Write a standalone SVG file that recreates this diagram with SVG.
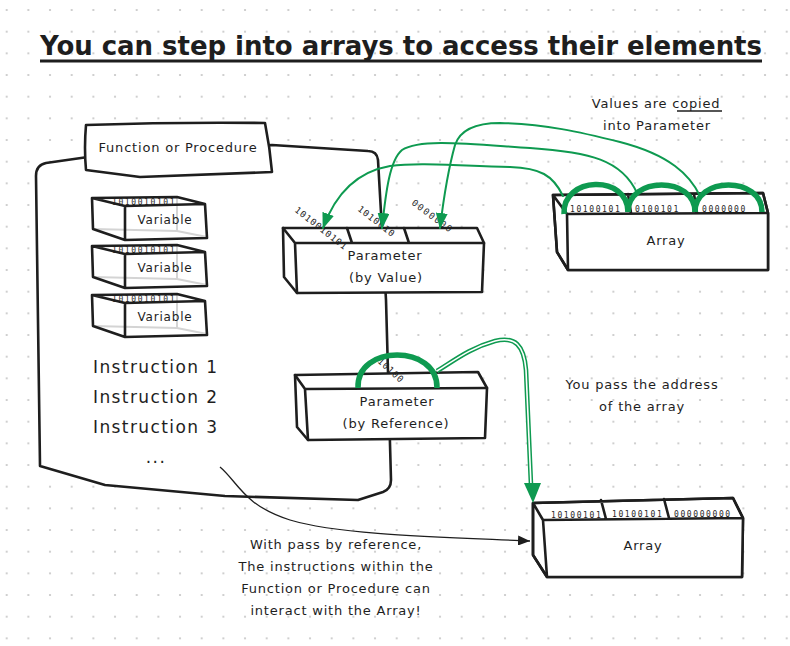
<svg xmlns="http://www.w3.org/2000/svg" width="790" height="646" viewBox="0 0 790 646">
<style>
.ln{fill:none;stroke:#1e1e1e;stroke-width:2.6;stroke-linejoin:round;stroke-linecap:round}
.bx{fill:#fff;stroke:#1e1e1e;stroke-width:2.6;stroke-linejoin:round}
.hid{fill:none;stroke:#d4d4d4;stroke-width:2}
.t{font-family:"DejaVu Sans",sans-serif;font-size:13px;letter-spacing:0.8px;fill:#1e1e1e}
.c{text-anchor:middle}
.ins{font-family:"DejaVu Sans",sans-serif;font-size:17px;letter-spacing:1.4px;fill:#1e1e1e}
.bits{font-family:"DejaVu Sans Mono",monospace;font-size:8px;letter-spacing:1.6px;fill:#1e1e1e}
.rb{font-family:"DejaVu Sans Mono",monospace;font-size:9px;letter-spacing:1px;fill:#1e1e1e}
.g{fill:none;stroke:#0e9a50;stroke-width:2;stroke-linecap:round}
.gt{fill:none;stroke:#0e9a50;stroke-width:5.5}
</style>
<defs>
<pattern id="dots" x="-4.13" y="-0.83" width="21.667" height="21.667" patternUnits="userSpaceOnUse">
<circle cx="10.83" cy="10.83" r="1.1" fill="#c4c4c4"/>
</pattern>
<marker id="ga" viewBox="0 0 16 12" refX="15" refY="6" markerWidth="16" markerHeight="12" markerUnits="userSpaceOnUse" orient="auto">
<path d="M0,0 L16,6 L0,12 Z" fill="#0e9a50"/>
</marker>
<marker id="ba" viewBox="0 0 12 10" refX="12" refY="5" markerWidth="12" markerHeight="10" markerUnits="userSpaceOnUse" orient="auto">
<path d="M0,0 L12,5 L0,10 Z" fill="#1e1e1e"/>
</marker>
</defs>
<rect width="790" height="646" fill="#fff"/>
<rect width="790" height="646" fill="url(#dots)"/>

<g id="title">
<text x="40" y="55" textLength="722" lengthAdjust="spacing" style="font-family:'DejaVu Sans',sans-serif;font-size:26px;font-weight:bold;fill:#1e1e1e">You can step into arrays to access their elements</text>
<path d="M40,61 L762,61" stroke="#1e1e1e" stroke-width="3"/>
</g>

<g id="function">
<path class="bx" d="M88,157 L46,163 Q36,165 36,176 L40,466 L105,485 L225,496 L358,500 L383,492 Q391,489 391,480 L386,300 L378,160 Q377,151 368,151 L272,145 Z"/>
<path class="bx" d="M86,125 Q175,122 265,123 Q270,148 272,172 L140,177 L86,170 Q84,148 86,125 Z"/>
<text class="t c" x="178" y="152">Function or Procedure</text>
<text class="ins" x="93" y="373">Instruction 1</text>
<text class="ins" x="93" y="403">Instruction 2</text>
<text class="ins" x="93" y="433">Instruction 3</text>
<text class="ins c" x="156" y="463">...</text>
</g>

<g id="var1">
<path d="M92,198 L177,197 L205,204 L207,238 L125,240 L93,229 Z" fill="#fff"/>
<text class="bits" x="112" y="205">1010010101</text>
<path d="M125,206 L205,204 L207,238 L125,240 Z" fill="#fff"/>
<path class="hid" d="M93,229 L177,231 L207,237 M177,198 L177,231"/>
<path class="ln" d="M92,198 L177,197 L205,204 L207,238 L125,240 L93,229 Z M92,198 L125,206 L205,204 M125,206 L125,240"/>
<text class="t c" x="165" y="224" style="font-size:12px">Variable</text>
</g>
<g id="var2" transform="translate(0,48)">
<path d="M92,198 L177,197 L205,204 L207,238 L125,240 L93,229 Z" fill="#fff"/>
<text class="bits" x="112" y="205">1010010101</text>
<path d="M125,206 L205,204 L207,238 L125,240 Z" fill="#fff"/>
<path class="hid" d="M93,229 L177,231 L207,237 M177,198 L177,231"/>
<path class="ln" d="M92,198 L177,197 L205,204 L207,238 L125,240 L93,229 Z M92,198 L125,206 L205,204 M125,206 L125,240"/>
<text class="t c" x="165" y="224" style="font-size:12px">Variable</text>
</g>
<g id="var3" transform="translate(0,97)">
<path d="M92,198 L177,197 L205,204 L207,238 L125,240 L93,229 Z" fill="#fff"/>
<text class="bits" x="112" y="205">1010010101</text>
<path d="M125,206 L205,204 L207,238 L125,240 Z" fill="#fff"/>
<path class="hid" d="M93,229 L177,231 L207,237 M177,198 L177,231"/>
<path class="ln" d="M92,198 L177,197 L205,204 L207,238 L125,240 L93,229 Z M92,198 L125,206 L205,204 M125,206 L125,240"/>
<text class="t c" x="165" y="224" style="font-size:12px">Variable</text>
</g>

<g id="param-value">
<path class="bx" d="M283,228 L477,228 L484,243 L482,292 L297,293 L284,277 Z"/>
<path class="ln" d="M283,228 L295,243 L297,293 M295,243 L484,243 M347,228 L352,243 M404,228 L409,243"/>
<text class="rb" transform="translate(294,211) rotate(38)">1010010101</text>
<text class="rb" transform="translate(357,210) rotate(38)">1010010</text>
<text class="rb" transform="translate(411,204) rotate(37)" style="letter-spacing:1.6px">0000000</text>
<text class="t c" x="385" y="260">Parameter</text>
<text class="t c" x="386" y="282">(by Value)</text>
</g>

<g id="array-top">
<path class="bx" d="M553,195 L763,193 L768,213 L768,270 L568,270 L557,252 Z"/>
<text class="bits" x="570" y="212">10100101</text>
<text class="bits" x="635" y="212">0100101</text>
<text class="bits" x="702" y="212">0000000</text>
<path d="M567,214 L768,213 L768,270 L568,270 Z" fill="#fff"/>
<path class="ln" d="M553,195 L763,193 L768,213 L768,270 L568,270 L557,252 Z M553,195 L567,214 L568,270 M567,214 L768,213 M628,194 L631,213 M694,194 L697,213"/>
<text class="t c" x="666" y="245">Array</text>
</g>

<g id="param-ref">
<path class="bx" d="M295,375 L478,372 L487,388 L485,438 L308,440 L297,427 Z"/>
<path class="ln" d="M295,375 L305,389 L308,440 M305,389 L487,388"/>
<text class="rb" transform="translate(377,362) rotate(42)">10100</text>
<text class="t c" x="397" y="406">Parameter</text>
<text class="t c" x="396" y="428">(by Reference)</text>
</g>

<g id="array-bottom">
<path class="bx" d="M533,503 L733,498 L743,518 L742,577 L547,577 L533,555 Z"/>
<text class="bits" x="551" y="518">10100101</text>
<text class="bits" x="612" y="517">10100101</text>
<text class="bits" x="674" y="517">000000000</text>
<path d="M543,520 L743,518 L742,577 L547,577 Z" fill="#fff"/>
<path class="ln" d="M533,503 L733,498 L743,518 L742,577 L547,577 L533,555 Z M533,503 L543,520 L547,577 M543,520 L743,518 M601,500 L606,519 M664,499 L669,518"/>
<text class="t c" x="643" y="550">Array</text>
</g>

<g id="connectors">
<path class="g" d="M563,196 C553,175 540,168 510,167 C460,166 420,162 390,166 C355,172 335,195 323,228" marker-end="url(#ga)"/>
<path class="g" d="M637,193 C622,160 590,152 530,148 C470,144 420,138 402,150 C390,160 386,190 382,228" marker-end="url(#ga)"/>
<path class="g" d="M700,196 C690,175 670,155 620,142 C580,132 545,124 500,123 C475,123 460,130 455,145 C448,170 444,195 440,228" marker-end="url(#ga)"/>
<path class="gt" d="M564,214 C562,176 628,174 628,212"/>
<path class="gt" d="M628,212 C628,176 695,176 695,212"/>
<path class="gt" d="M695,212 C695,176 762,176 762,212"/>
<path class="gt" d="M358,388 C356,344 438,344 437,388"/>
<path d="M437,371 C455,360 470,348 495,341 C515,336 524,345 526,370 L531,485" fill="none" stroke="#0e9a50" stroke-width="4.6"/>
<path d="M437,371 C455,360 470,348 495,341 C515,336 524,345 526,370 L531,485" fill="none" stroke="#fff" stroke-width="1.6"/>
<path d="M524,483 L541,483 L533,503 Z" fill="#0e9a50"/>
<path d="M220,467 C238,482 243,505 290,520 C340,535 440,537 530,541" fill="none" stroke="#1e1e1e" stroke-width="1.3" marker-end="url(#ba)"/>
</g>

<g id="notes">
<text class="t c" x="656" y="108">Values are copied</text>
<path d="M677,111 L722,111" stroke="#1e1e1e" stroke-width="1.3"/>
<text class="t c" x="657" y="130">into Parameter</text>
<text class="t c" x="642" y="389">You pass the address</text>
<text class="t c" x="642" y="411">of the array</text>
<text class="t c" x="336" y="549">With pass by reference,</text>
<text class="t c" x="336" y="571">The instructions within the</text>
<text class="t c" x="336" y="593">Function or Procedure can</text>
<text class="t c" x="336" y="615">interact with the Array!</text>
</g>
</svg>
